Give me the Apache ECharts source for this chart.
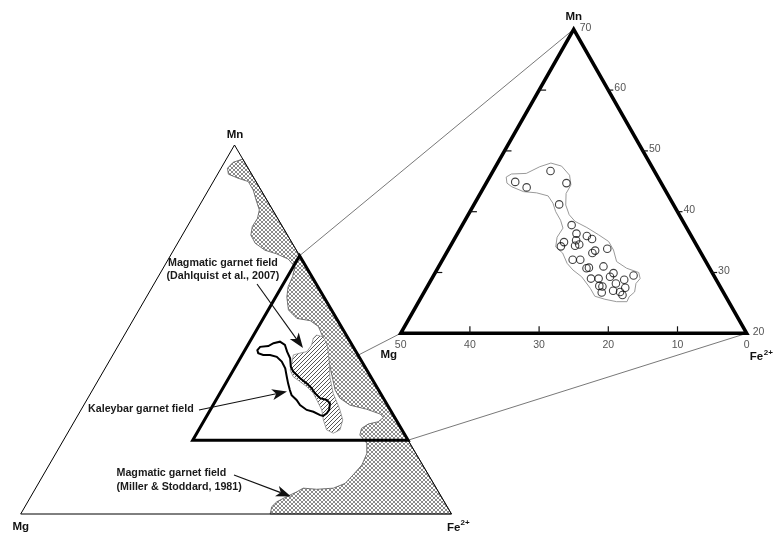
<!DOCTYPE html>
<html><head><meta charset="utf-8">
<script src="https://cdn.jsdelivr.net/npm/echarts@6/dist/echarts.min.js"></script>
<style>html,body{margin:0;padding:0;background:#fff}#c{width:774px;height:534px}</style>
</head><body><div id="c"></div>
<script>
// ---- DATA: ternary compositions [Mg, Mn, Fe2+] in % ----
const kaleybarSamples = [
 [21.0,44.9,34.1],[19.8,44.0,36.2],[15.0,46.7,38.3],[13.7,44.7,41.6],[16.5,41.2,42.3],
 [16.4,37.8,45.8],[16.4,36.4,47.2],[15.1,36.0,48.9],[14.6,35.5,49.9],[18.9,35.0,46.1],
 [19.7,34.3,46.0],[17.0,35.3,47.7],[17.6,34.4,48.0],[16.9,34.6,48.5],[15.1,33.6,51.3],
 [15.7,33.2,51.1],[13.2,33.9,52.9],[19.1,32.1,48.8],[18.0,32.1,49.9],[17.8,30.7,51.5],
 [17.4,30.8,51.8],[15.2,31.0,53.8],[18.0,29.0,53.0],[16.9,29.0,54.1],[17.4,27.8,54.8],
 [17.0,27.7,55.3],[17.6,26.7,55.7],[15.1,29.3,55.6],[14.3,29.9,55.8],[14.8,28.2,57.0],
 [13.3,28.8,57.9],[11.6,29.5,58.9],[13.8,27.5,58.7],[15.8,27.0,57.2],[14.9,26.8,58.3],
 [14.8,26.3,58.9]
];
const kaleybarEnvelope = [
 [21.9,45.7,32.4],[20.9,46.2,32.9],[18.7,46.3,35.0],[16.2,47.4,36.4],[14.3,48.0,37.7],
 [13.0,47.5,39.5],[12.6,46.0,41.4],[13.2,44.4,42.4],[14.6,43.0,42.4],[15.6,41.1,43.3],
 [15.9,39.5,44.6],[15.6,38.4,46.0],[14.4,37.4,48.2],[13.3,36.2,50.5],[12.4,35.1,52.5],
 [12.4,33.7,53.9],[12.9,31.8,55.3],[12.0,30.7,57.3],[10.6,30.0,59.4],[10.9,29.0,60.1],
 [11.9,28.2,59.9],[12.8,26.8,60.4],[14.0,26.0,60.0],[14.7,25.2,60.1],[16.2,25.2,58.6],
 [17.7,25.6,56.7],[18.9,26.1,55.0],[18.9,27.4,53.7],[19.2,29.3,51.5],[19.9,30.4,49.7],
 [20.2,31.5,48.3],[20.0,33.2,46.8],[20.5,34.2,45.3],[19.5,35.8,44.7],[17.9,37.3,44.8],
 [17.6,38.6,43.8],[17.6,40.0,42.4],[17.3,41.4,41.3],[17.4,42.6,40.0],[18.8,43.1,38.1],
 [20.6,43.3,36.1],[21.9,44.1,34.0],[22.3,44.7,33.0]
];
const kaleybarField = [
 [22.7,44.4,32.9],[21.6,45.3,33.1],[19.6,45.5,34.9],[18.0,46.3,35.7],[16.3,46.7,37.0],
 [15.6,45.8,38.6],[16.0,44.0,40.0],[16.2,42.2,41.6],[17.2,39.9,42.9],[17.3,38.6,44.1],
 [16.6,36.8,46.6],[15.8,35.4,48.8],[15.3,34.1,50.6],[15.2,32.7,52.1],[14.7,31.4,53.9],
 [13.4,30.9,55.7],[13.1,30.0,56.9],[14.2,28.2,57.6],[15.2,27.3,57.5],[16.4,26.6,57.0],
 [17.0,26.8,56.2],[18.1,27.7,54.2],[19.4,28.2,52.4],[20.3,29.5,50.2],[20.4,30.9,48.7],
 [20.9,32.2,46.9],[20.6,33.6,45.8],[20.1,35.4,44.5],[19.5,37.2,43.3],[18.7,39.5,41.8],
 [18.6,41.3,40.1],[19.1,42.6,38.3],[20.4,43.1,36.5],[22.0,43.1,34.9],[22.9,43.6,33.5]
];
const dahlquistField = [
 [6.9,48.5,44.6],[5.6,48.0,46.4],[5.8,45.8,48.4],[7.4,41.7,50.9],[9.5,37.2,53.3],
 [11.0,32.7,56.3],[11.6,28.6,59.8],[12.4,25.5,62.1],[14.4,22.8,62.8],[16.4,21.9,61.7],
 [17.5,22.8,59.7],[16.9,25.5,57.6],[15.9,28.2,55.9],[15.7,30.9,53.4],[15.6,32.7,51.7],
 [16.2,34.5,49.3],[17.1,35.9,47.0],[18.0,37.2,44.8],[17.8,39.0,43.2],[16.5,40.8,42.7],
 [15.0,43.1,41.9],[13.2,43.6,43.2],[11.4,44.0,44.6],[9.4,45.8,44.8],[8.1,47.6,44.3]
];
const millerStoddardField = [
 [0,96.2,3.8],[2.7,95.3,2.0],[4.8,93.7,1.5],[5.4,92.1,2.5],[3.7,91.0,5.3],[1.8,90.1,8.1],
 [1.8,87.8,10.4],[2.5,85.1,12.4],[3.1,82.4,14.5],[4.7,80.1,15.2],[7.0,77.9,15.1],[8.5,75.6,15.9],
 [8.6,73.4,18.0],[7.3,71.5,21.2],[5.1,70.5,24.4],[3.1,69.1,27.8],[2.6,67.0,30.4],[4.5,64.3,31.2],
 [6.9,61.6,31.5],[8.6,58.8,32.6],[10.0,55.3,34.7],[9.2,53.0,37.8],[6.4,52.4,41.2],[5.3,50.8,43.9],
 [5.7,48.0,46.3],[6.6,44.4,49.0],[8.1,39.9,52.0],[10.1,33.6,56.3],[10.1,31.4,58.5],[8.7,29.5,61.8],
 [5.4,28.4,66.2],[2.9,27.1,70.0],[2.6,26.2,71.2],[4.4,25.0,70.6],[7.0,24.4,68.6],[9.2,23.2,67.6],
 [10.5,21.4,68.1],[10.0,19.2,70.8],[11.4,16.4,72.2],[14.1,13.3,72.6],[17.5,10.6,71.9],[20.5,8.3,71.2],
 [23.9,7.0,69.1],[27.9,6.7,65.4],[30.9,7.0,62.1],[32.9,6.0,61.1],[35.9,4.7,59.4],[38.9,3.3,57.8],
 [40.7,2.0,57.3],[42.1,0,57.9],[0,0,100]
];
const fullTriangle = [[100,0,0],[0,100,0],[0,0,100]];
const zoomWindow = [[50,20,30],[0,20,80],[0,70,30]];
const zoomMgTicks = [40,30,20,10];
const zoomMgLabels = [50,40,30,20,10,0];
const zoomMnTicks = [60,50,40,30];
const zoomMnLabels = [70,60,50,40,30,20];
const vertexNames = ['Mg','Mn','Fe','2+'];

// ---- helpers ----
const K_BIG = 0.4963, K_ZOOM = 0.5;
function uv(p, k){ return [p[2] + k*p[1], p[1]]; }
function makePattern(draw, size){
  const c = document.createElement('canvas'); c.width = size; c.height = size;
  const g = c.getContext('2d'); draw(g, size); return {image: c, repeat: 'repeat'};
}
const crossFill = makePattern((g,s)=>{
  g.fillStyle='#fff'; g.fillRect(0,0,s,s); g.strokeStyle='#7e7e7e'; g.lineWidth=0.9; g.beginPath();
  for (const o of [-s,0,s]) { g.moveTo(o,0); g.lineTo(o+s,s); g.moveTo(o,s); g.lineTo(o+s,0); }
  g.stroke();
}, 4);
const hatchFill = makePattern((g,s)=>{
  g.fillStyle='#fff'; g.fillRect(0,0,s,s); g.strokeStyle='#555'; g.lineWidth=1; g.beginPath();
  for (const o of [-s,0,s]) { g.moveTo(o,s); g.lineTo(o+s,0); }
  g.stroke();
}, 4);
const BOLD = '"Liberation Sans", Arial, Helvetica, sans-serif';
function txt(text, x, y, size, align, weight, color){
  return {type:'text', style:{text, x, y, font:(weight||'bold')+' '+size+'px '+BOLD,
    fill: color||'#111', align: align||'center', verticalAlign:'middle',
    textAlign: align||'center', textVerticalAlign:'middle'}};
}

function renderBig(params, api){
  const P = p => api.coord(uv(p, K_BIG));
  const poly = a => a.map(P);
  const [mgx,mgy] = P(fullTriangle[0]), [mnx,mny] = P(fullTriangle[1]), [fex,fey] = P(fullTriangle[2]);
  return {type:'group', children:[
    {type:'polygon', shape:{points:poly(fullTriangle)}, style:{fill:'#fff', stroke:null}},
    {type:'polygon', shape:{points:poly(millerStoddardField)}, style:{fill:crossFill, stroke:'#555', lineWidth:0.8}},
    {type:'polygon', shape:{points:poly(dahlquistField)}, style:{fill:hatchFill, stroke:'#888', lineWidth:0.8}},
    {type:'polygon', shape:{points:poly(kaleybarField)}, style:{fill:'none', stroke:'#000', lineWidth:2}},
    {type:'polygon', shape:{points:poly(fullTriangle)}, style:{fill:'none', stroke:'#000', lineWidth:1}},
    {type:'polygon', shape:{points:poly(zoomWindow)}, style:{fill:'none', stroke:'#000', lineWidth:3, lineJoin:'miter'}},
    txt(vertexNames[1], mnx+0.5, mny-10, 11.5),
    txt(vertexNames[0], mgx, mgy+13, 11.5),
    txt(vertexNames[2], fex-4.5, fey+13.5, 11.5, 'left'),
    txt(vertexNames[3], fex+9, fey+8.5, 8, 'left')
  ]};
}

function renderZoom(params, api){
  const P = p => api.coord(uv(p, K_ZOOM));
  const ch = [];
  ch.push({type:'polygon', shape:{points:kaleybarEnvelope.map(P)}, style:{fill:'none', stroke:'#9a9a9a', lineWidth:1}});
  ch.push({type:'polygon', shape:{points:zoomWindow.map(P)}, style:{fill:'none', stroke:'#000', lineWidth:3.5, lineJoin:'miter'}});
  zoomMgTicks.forEach(t => { const [x,y] = P([t,20,80-t]);
    ch.push({type:'line', shape:{x1:x,y1:y,x2:x,y2:y-7}, style:{stroke:'#111', lineWidth:1.2}}); });
  zoomMnTicks.forEach(t => {
    const [x,y] = P([0,t,100-t]);
    ch.push({type:'line', shape:{x1:x-1,y1:y,x2:x+5,y2:y}, style:{stroke:'#111', lineWidth:1.2}});
    const [xl,yl] = P([70-t,t,30]);
    ch.push({type:'line', shape:{x1:xl,y1:yl,x2:xl+7,y2:yl}, style:{stroke:'#111', lineWidth:1.2}});
  });
  zoomMgLabels.forEach(t => { const [x,y] = P([t,20,80-t]);
    ch.push(txt(String(t), x, y+12, 10.5, 'center', 'normal', '#555')); });
  zoomMnLabels.forEach(t => { const [x,y] = P([0,t,100-t]);
    ch.push(txt(String(t), x+6, y-1.5, 10.5, 'left', 'normal', '#555')); });
  const [ax,ay] = P(zoomWindow[2]), [mx,my] = P(zoomWindow[0]), [fx,fy] = P(zoomWindow[1]);
  ch.push(txt(vertexNames[1], ax, ay-12, 11.5));
  ch.push(txt(vertexNames[0], mx-12, my+22, 11.5));
  ch.push(txt(vertexNames[2], fx+3, fy+24, 11.5, 'left'));
  ch.push(txt(vertexNames[3], fx+17, fy+19, 8, 'left'));
  return {type:'group', children:ch};
}

const chart = echarts.init(document.getElementById('c'), null, {renderer:'canvas'});
chart.setOption({
  animation:false,
  backgroundColor:'#fff',
  grid:[
    {left:20.7, top:145, width:430.8, height:369},
    {left:400.7, top:29.3, width:346, height:304}
  ],
  xAxis:[{gridIndex:0,type:'value',min:0,max:100,show:false},{gridIndex:1,type:'value',min:40,max:90,show:false}],
  yAxis:[{gridIndex:0,type:'value',min:0,max:100,show:false},{gridIndex:1,type:'value',min:20,max:70,show:false}],
  series:[
    {type:'custom', xAxisIndex:0, yAxisIndex:0, data:[[50,50]], renderItem:renderBig, silent:true, z:2},
    {type:'custom', xAxisIndex:1, yAxisIndex:1, data:[[60,40]], renderItem:renderZoom, silent:true, z:3},
    {type:'scatter', xAxisIndex:1, yAxisIndex:1, data:kaleybarSamples.map(p=>uv(p,K_ZOOM)),
     symbol:'circle', symbolSize:7.5, silent:true, z:4,
     itemStyle:{color:'rgba(255,255,255,0)', borderColor:'#111', borderWidth:1.1}}
  ]
});

// connecting lines between the window in the full diagram and the enlarged triangle
const links = zoomWindow.map(p => {
  const a = chart.convertToPixel({gridIndex:0}, uv(p, K_BIG));
  const b = chart.convertToPixel({gridIndex:1}, uv(p, K_ZOOM));
  return {type:'line', z:0, shape:{x1:a[0],y1:a[1],x2:b[0],y2:b[1]}, style:{stroke:'#555', lineWidth:0.8}};
});
function arrow(x1,y1,x2,y2){
  const dx=x2-x1, dy=y2-y1, L=Math.hypot(dx,dy), ux=dx/L, uy=dy/L, nx=-uy, ny=ux;
  const hl=15, hw=5.5, notch=4;
  const bx=x2-ux*hl, by=y2-uy*hl;
  return [
    {type:'line', z:10, shape:{x1,y1,x2:bx+ux*notch,y2:by+uy*notch}, style:{stroke:'#111', lineWidth:1.1}},
    {type:'polygon', z:10, shape:{points:[[x2,y2],[bx+nx*hw,by+ny*hw],[bx+ux*notch,by+uy*notch],[bx-nx*hw,by-ny*hw]]}, style:{fill:'#111'}}
  ];
}
function gtxt(text,x,y,align){
  return {type:'text', z:10, style:{text, x, y, font:'bold 10.7px '+BOLD, fill:'#1a1a1a',
    align:align||'left', verticalAlign:'middle', textAlign:align||'left', textVerticalAlign:'middle'}};
}
const notes = [
  gtxt('Magmatic garnet field', 168, 263.5),
  gtxt('(Dahlquist et al., 2007)', 166.5, 276),
  ...arrow(257, 284, 303, 348),
  gtxt('Kaleybar garnet field', 88, 409.5),
  ...arrow(199, 410, 287, 391.5),
  gtxt('Magmatic garnet field', 116.5, 473),
  gtxt('(Miller & Stoddard, 1981)', 116.5, 487),
  ...arrow(234, 475, 291, 496.5)
];
chart.setOption({graphic:{elements:[...links, ...notes]}});
</script></body></html>
